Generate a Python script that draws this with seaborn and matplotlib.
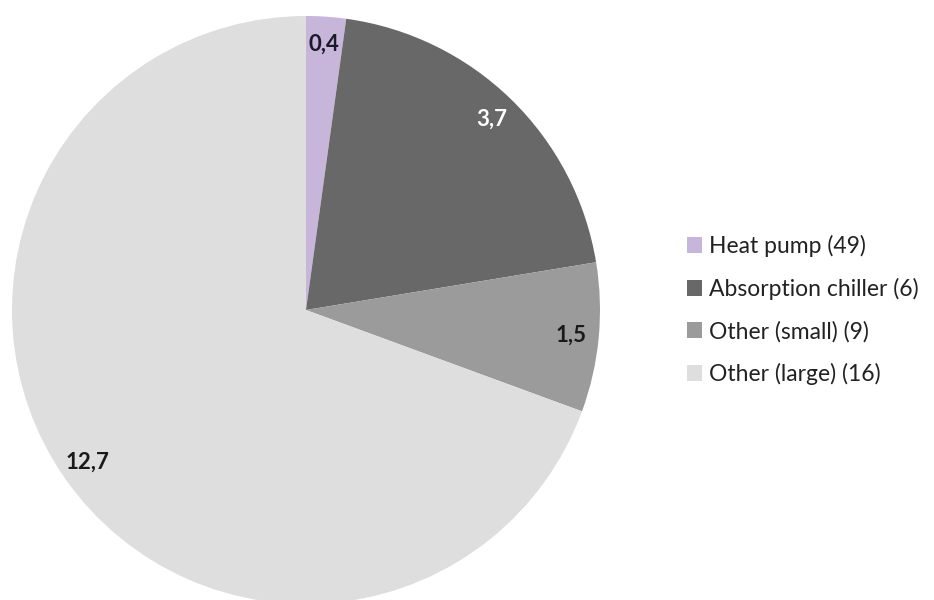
import matplotlib
matplotlib.use("Agg")
import matplotlib.pyplot as plt
import seaborn as sns

categories = ["Heat pump (49)", "Absorption chiller (6)", "Other (small) (9)", "Other (large) (16)"]
values = [0.4, 3.7, 1.5, 12.7]
value_labels = ["0,4", "3,7", "1,5", "12,7"]
colors = ["#c8b5da", "#686868", "#9b9b9b", "#dedede"]
label_colors = ["#1a1a2a", "white", "#1a1a1a", "#1a1a1a"]

sns.set_theme(style="white")
plt.rcParams["font.family"] = ["Lato", "DejaVu Sans"]

fig = plt.figure(figsize=(9.34, 6.0), dpi=100)
W, H = 934, 600
cx, cy, r = 306, 310, 294
ax = fig.add_axes([(cx - r) / W, (H - cy - r) / H, 2 * r / W, 2 * r / H])

wedges, texts = ax.pie(values, colors=colors, startangle=90, counterclock=False,
                       labels=value_labels, labeldistance=0.905,
                       wedgeprops=dict(linewidth=0),
                       textprops=dict(fontsize=16, fontweight="bold", ha="center", va="center"))
for t, c in zip(texts, label_colors):
    t.set_color(c)
    t.set_ha("center")
    t.set_va("center")
ax.set_xlim(-1, 1)
ax.set_ylim(-1, 1)
ax.set_aspect("equal")

leg = fig.legend(wedges, categories, loc="center left",
                 bbox_to_anchor=(687 / W, 1 - 310 / H), frameon=False,
                 fontsize=16.5, handlelength=0.66, handleheight=0.66,
                 handletextpad=0.32, labelspacing=0.9, borderaxespad=0, borderpad=0)
for t in leg.get_texts():
    t.set_color("#222222")

fig.savefig("out.png", dpi=100, facecolor="white")
